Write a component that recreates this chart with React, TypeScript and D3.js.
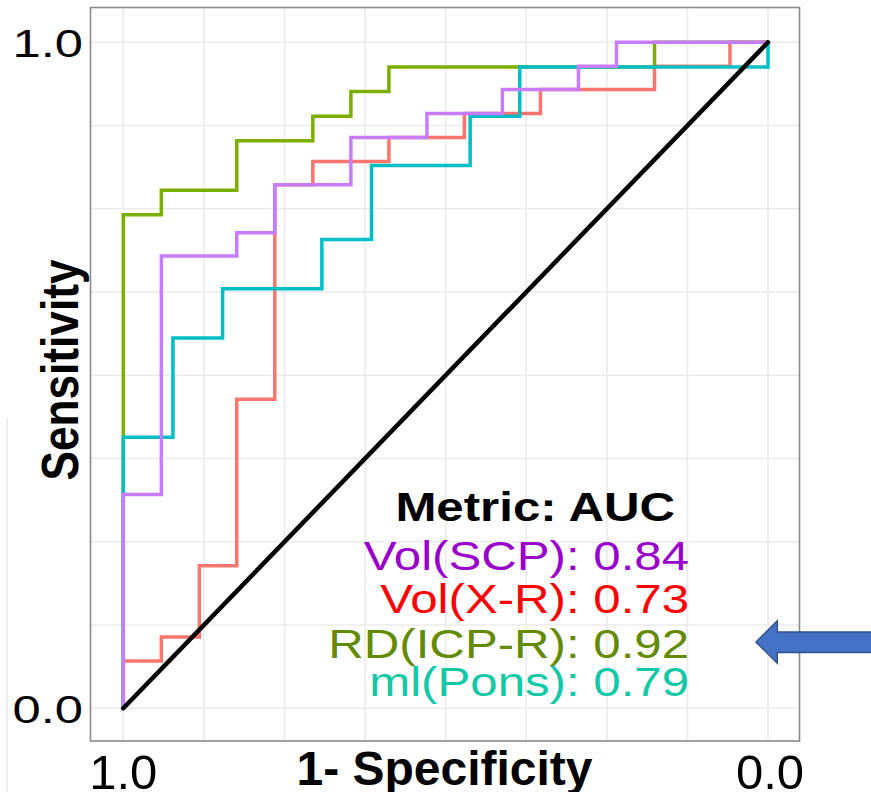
import * as d3 from "d3";

// ROC step points (specificity, sensitivity)
const scpSpec = [1, 1, 0.941, 0.824, 0.765, 0.647, 0.529, 0.412, 0.294, 0.235, 0];
const scpSens = [0, 0.321, 0.679, 0.714, 0.786, 0.857, 0.893, 0.929, 0.964, 1, 1];

const xrSpec = [1, 1, 0.941, 0.882, 0.824, 0.765, 0.706, 0.588, 0.471, 0.353, 0.176, 0.059, 0];
const xrSens = [0, 0.071, 0.107, 0.214, 0.464, 0.786, 0.821, 0.857, 0.893, 0.929, 0.964, 1, 1];

const icpSpec = [1, 1, 0.941, 0.824, 0.706, 0.647, 0.588, 0.176, 0];
const icpSens = [0, 0.741, 0.778, 0.852, 0.889, 0.926, 0.963, 1, 1];

const ponsSpec = [1, 1, 0.923, 0.846, 0.692, 0.615, 0.462, 0.385, 0, 0];
const ponsSens = [0, 0.407, 0.556, 0.63, 0.704, 0.815, 0.889, 0.963, 0.963, 1];

const seriesNames = ["Vol(X-R)", "RD(ICP-R)", "ml(Pons)", "Vol(SCP)"];
const lineColors = ["#F8766D", "#7CAE00", "#00BFC4", "#C77CFF"];

const legendTitle = "Metric: AUC";
const legendNames = ["Vol(SCP)", "Vol(X-R)", "RD(ICP-R)", "ml(Pons)"];
const legendAuc = ["0.84", "0.73", "0.92", "0.79"];
const legendColors = ["#9A00CC", "#FF0000", "#638A00", "#12C8A6"];

const gridBreaks = [0, 0.125, 0.25, 0.375, 0.5, 0.625, 0.75, 0.875, 1];
const tickValues = [1, 0];
const tickLabels = ["1.0", "0.0"];

const FONT = "'Liberation Sans', Arial, Helvetica, sans-serif";

export default function App() {
  const W = 871, H = 792;
  const panel = { left: 90.5, right: 799.5, top: 7.5, bottom: 741 };

  const x = d3.scaleLinear().domain([1, 0]).range([123.3, 768]);
  const y = d3.scaleLinear().domain([0, 1]).range([708.3, 42.3]);

  const line = d3
    .line<[number, number]>()
    .x((d) => x(d[0]))
    .y((d) => y(d[1]))
    .curve(d3.curveStepAfter);

  const series = [
    d3.zip(xrSpec, xrSens),
    d3.zip(icpSpec, icpSens),
    d3.zip(ponsSpec, ponsSens),
    d3.zip(scpSpec, scpSens),
  ] as [number, number][][];

  const legendBase = [569.5, 612.5, 657.5, 695.5];

  return (
    <div style={{ position: "fixed", left: 0, top: 0 }}>
      <svg width={W} height={H} style={{ display: "block", background: "#fff" }} fontFamily={FONT}>
        <line x1={7} x2={7} y1={418} y2={H} stroke="#e6e6e6" strokeWidth={1.5} />

        {/* grid */}
        <g stroke="#ebebeb" strokeWidth={1.6}>
          {gridBreaks.map((b) => (
            <line key={"gx" + b} x1={x(b)} x2={x(b)} y1={panel.top} y2={panel.bottom} />
          ))}
          {gridBreaks.map((b) => (
            <line key={"gy" + b} x1={panel.left} x2={panel.right} y1={y(b)} y2={y(b)} />
          ))}
        </g>

        {/* ROC curves */}
        {series.map((s, i) => (
          <path
            key={seriesNames[i]}
            d={line(s) || ""}
            fill="none"
            stroke={lineColors[i]}
            strokeWidth={3.5}
          />
        ))}

        {/* chance line */}
        <line x1={x(1)} y1={y(0)} x2={x(0)} y2={y(1)} stroke="#000" strokeWidth={4.5} strokeLinecap="round" />

        <rect
          x={panel.left}
          y={panel.top}
          width={panel.right - panel.left}
          height={panel.bottom - panel.top}
          fill="none"
          stroke="#8a8a8a"
          strokeWidth={1.6}
        />

        {/* legend */}
        <text
          transform={`translate(675,521) scale(1.2,1)`}
          textAnchor="end"
          fontSize={41}
          fontWeight="bold"
          fill="#000"
        >
          {legendTitle}
        </text>
        {legendNames.map((n, i) => (
          <text
            key={n}
            transform={`translate(689,${legendBase[i]}) scale(1.2,1)`}
            textAnchor="end"
            fontSize={41}
            fill={legendColors[i]}
          >
            {n + ": " + legendAuc[i]}
          </text>
        ))}

        {/* y tick labels */}
        {tickValues.map((v, i) => (
          <text
            key={"yt" + v}
            transform={`translate(83,${y(1 - v) + 14.3}) scale(1.3,1)`}
            textAnchor="end"
            fontSize={39}
            fill="#000"
          >
            {tickLabels[tickLabels.length - 1 - i]}
          </text>
        ))}

        {/* x tick labels */}
        {tickValues.map((v, i) => (
          <text
            key={"xt" + v}
            x={x(v) + (v === 0 ? 2 : 0)}
            y={789}
            textAnchor="middle"
            fontSize={49}
            fill="#000"
          >
            {tickLabels[i]}
          </text>
        ))}

        {/* axis titles */}
        <text x={444.5} y={785} textAnchor="middle" fontSize={48} fontWeight="bold" fill="#000">
          1- Specificity
        </text>
        <text
          transform="translate(78,370) rotate(-90)"
          textAnchor="middle"
          fontSize={52}
          fontWeight="bold"
          textLength={221}
          lengthAdjust="spacingAndGlyphs"
          fill="#000"
        >
          Sensitivity
        </text>

        {/* arrow */}
        <path
          d="M756,642 L777.3,620.7 L777.3,632 L880,632 L880,652.5 L777.3,652.5 L777.3,663.3 Z"
          fill="#4472C4"
          stroke="#2F528F"
          strokeWidth={1.5}
        />
      </svg>
    </div>
  );
}
